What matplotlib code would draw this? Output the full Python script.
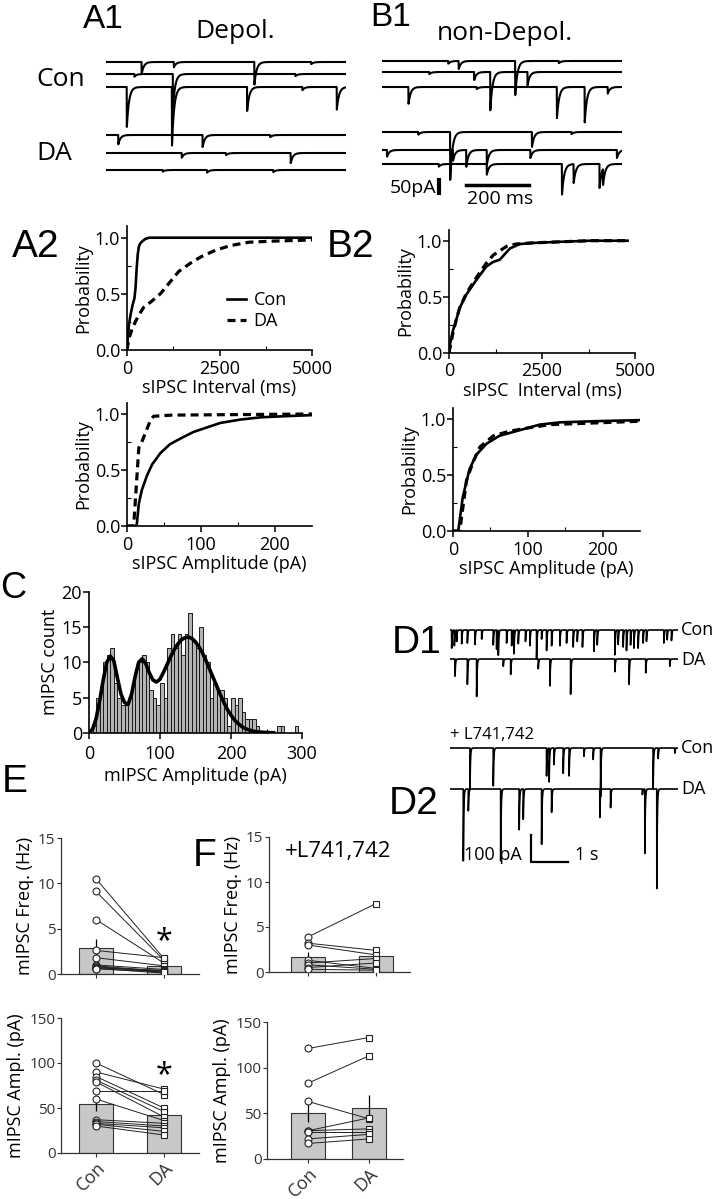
import numpy as np
import matplotlib
matplotlib.use("Agg")
import matplotlib.pyplot as plt

# ---- data ----

# A1 / B1 example traces: (time ms, amplitude pA) per sweep
a1_con_events = [
    [(113, 45), (215, 20), (470, 85), (650, 8)],
    [(90, 10), (212, 130), (600, 8)],
    [(66, 150), (209, 220), (447, 90), (622, 12), (731, 85)],
]
a1_da_events = [
    [(39, 35), (306, 45), (520, 8)],
    [(240, 18), (380, 8), (585, 38)],
    [(180, 6), (320, 10), (530, 8)],
]
b1_con_events = [
    [(210, 10), (243, 30), (422, 128), (560, 8)],
    [(150, 8), (292, 30), (343, 144), (461, 50)],
    [(84, 63), (300, 8), (554, 117), (642, 133), (715, 25)],
]
b1_da_events = [
    [(115, 10), (216, 180), (475, 56), (600, 8)],
    [(16, 25), (225, 40), (267, 63), (332, 56), (470, 30), (744, 30)],
    [(180, 10), (332, 40), (570, 115), (607, 71), (689, 90), (700, 60)],
]

# A2 / B2 cumulative probability curves
a2_int_con_x = [0, 20, 50, 100, 150, 200, 230, 260, 290, 320, 360, 420, 500, 600, 5000]
a2_int_con_y = [0, 0.1, 0.22, 0.32, 0.4, 0.46, 0.55, 0.72, 0.85, 0.92, 0.95, 0.97, 0.99, 1.0, 1.0]
a2_int_da_x = [0, 50, 150, 300, 450, 650, 900, 1150, 1400, 1700, 2000, 2400, 2800, 3300, 4000, 5000]
a2_int_da_y = [0, 0.1, 0.2, 0.3, 0.38, 0.43, 0.5, 0.6, 0.7, 0.77, 0.83, 0.89, 0.93, 0.96, 0.97, 0.98]
a2_amp_con_x = [0, 13, 16, 20, 27, 34, 45, 58, 72, 90, 108, 126, 153, 180, 212, 250]
a2_amp_con_y = [0, 0, 0.2, 0.32, 0.45, 0.55, 0.65, 0.73, 0.78, 0.84, 0.88, 0.92, 0.95, 0.97, 0.98, 0.99]
a2_amp_da_x = [0, 9, 13, 16, 20, 26, 32, 36, 60, 250]
a2_amp_da_y = [0, 0, 0.4, 0.7, 0.75, 0.85, 0.95, 0.98, 0.99, 1.0]

b2_int_con_x = [0, 30, 108, 200, 287, 467, 736, 1005, 1185, 1364, 1500, 1634, 1903, 2262, 2980, 3800, 4800]
b2_int_con_y = [0, 0.08, 0.2, 0.3, 0.4, 0.52, 0.65, 0.77, 0.81, 0.83, 0.88, 0.93, 0.97, 0.98, 0.99, 1.0, 1.0]
b2_int_da_x = [0, 30, 108, 200, 287, 467, 736, 1005, 1185, 1364, 1550, 1800, 2200, 3000, 3800, 4800]
b2_int_da_y = [0, 0.05, 0.18, 0.3, 0.4, 0.53, 0.67, 0.8, 0.87, 0.91, 0.95, 0.97, 0.98, 0.99, 1.0, 1.0]
b2_amp_con_x = [0, 7, 13, 22, 31, 45, 62, 89, 116, 143, 187, 250]
b2_amp_con_y = [0, 0, 0.3, 0.55, 0.68, 0.78, 0.85, 0.9, 0.95, 0.97, 0.98, 0.99]
b2_amp_da_x = [0, 9, 18, 27, 36, 54, 75, 100, 130, 170, 250]
b2_amp_da_y = [0, 0, 0.45, 0.62, 0.75, 0.85, 0.89, 0.92, 0.95, 0.96, 0.98]

# C histogram, 5 pA bins from 0 to 300
hist_counts = [0, 1, 5, 6, 10, 11, 12, 7, 5, 4,
               4, 5, 7, 9, 10, 11, 10, 6, 5, 4,
               7, 5, 12, 14, 12, 14, 11, 14, 17, 13,
               12, 15, 11, 10, 5, 7, 6, 6, 5, 1,
               5, 4, 5, 3, 2, 2, 2, 1, 0, 0,
               0, 0, 0, 1, 1, 0, 0, 0, 1, 0]
fit_x = list(range(0, 265, 5))
fit_y = [0, 0.5, 2, 4.5, 7.5, 10, 10.9, 10.2, 7.8, 5.5,
         4.3, 4.0, 5.5, 8, 10, 10.5, 9.8, 8.5, 7.5, 7.2,
         7.6, 8.6, 9.7, 10.8, 11.8, 12.6, 13.2, 13.5, 13.6, 13.4,
         12.9, 12.2, 11.3, 10.2, 9, 7.8, 6.6, 5.4, 4.3, 3.3,
         2.5, 1.8, 1.3, 0.9, 0.6, 0.4, 0.25, 0.15, 0.1, 0.06,
         0.03, 0.01, 0]

# D1 / D2 traces: (time s, amplitude pA)
d1_con_events = [(0.045, 74), (0.117, 64), (0.18, 43), (0.315, 56), (0.47, 49), (0.675, 59),
                 (0.855, 37), (1.17, 56), (1.26, 72), (1.305, 101), (1.53, 49), (1.665, 64),
                 (1.73, 89), (1.845, 56), (2.04, 43), (2.16, 59), (2.34, 109), (2.475, 37),
                 (2.61, 77), (2.745, 64), (2.97, 59), (3.15, 49), (3.33, 64), (3.44, 43),
                 (3.58, 64), (3.89, 80), (3.98, 56), (4.455, 101), (4.545, 59), (4.68, 64),
                 (4.77, 77), (4.88, 56), (4.97, 68), (5.085, 74), (5.22, 49), (5.31, 43),
                 (5.78, 49), (5.87, 37), (5.985, 43)]
d1_da_events = [(0.135, 70), (0.47, 95), (0.72, 141), (1.44, 27), (1.64, 58), (2.385, 40),
                (2.7, 101), (3.26, 132), (4.455, 52), (4.84, 95), (5.29, 52), (5.94, 27)]
d2_con_events = [(0.54, 154), (1.17, 142), (2.61, 105), (2.68, 127), (2.81, 62), (3.06, 95),
                 (3.22, 105), (3.62, 31), (3.87, 43), (4.07, 182), (5.49, 154), (5.625, 43),
                 (6.075, 21)]
d2_da_events = [(0.36, 270), (0.495, 89), (1.37, 270), (1.87, 153), (1.98, 114), (2.475, 226),
                (2.745, 95), (4.05, 107), (4.34, 70), (5.2, 21), (5.265, 263), (5.59, 374)]

# E / F paired data
groups = ["Con", "DA"]
e_freq_con = [10.5, 9.1, 6.0, 2.6, 1.8, 1.0, 0.9, 0.8, 0.7, 0.7, 0.6, 0.6]
e_freq_da = [1.7, 1.5, 1.2, 1.8, 0.9, 0.5, 0.3, 0.2, 0.4, 0.3, 0.1, 0.2]
e_freq_mean = [2.9, 0.85]
e_freq_sem = [1.0, 0.2]
e_amp_con = [100, 90, 85, 81, 79, 69, 60, 37, 35, 33, 32, 30]
e_amp_da = [65, 71, 50, 46, 40, 69, 36, 33, 30, 28, 24, 20]
e_amp_mean = [54, 42]
e_amp_sem = [7, 5]
f_freq_con = [3.9, 3.2, 3.0, 1.3, 1.0, 0.8, 0.5, 0.3]
f_freq_da = [7.6, 2.4, 1.9, 0.4, 1.5, 0.3, 1.0, 0.2]
f_freq_mean = [1.7, 1.8]
f_freq_sem = [0.5, 0.9]
f_amp_con = [121, 83, 63, 31, 31, 30, 22, 17]
f_amp_da = [133, 113, 44, 45, 33, 30, 27, 22]
f_amp_mean = [50, 56]
f_amp_sem = [10, 14]

# ---- figure ----
W, H = 718, 1199
fig = plt.figure(figsize=(W / 100, H / 100), dpi=100)
TXT = ["Open Sans", "DejaVu Sans"]
LAB = ["Liberation Sans", "DejaVu Sans"]


def ax_px(x0, y0, x1, y1):
    return fig.add_axes([x0 / W, 1 - y1 / H, (x1 - x0) / W, (y1 - y0) / H])


def ftext(x, y, s, size=13, family=TXT, **kw):
    kw.setdefault("va", "center")
    fig.text(x / W, 1 - y / H, s, fontsize=size, family=family, **kw)


def trace(t, events, tau):
    y = np.zeros_like(t)
    for te, amp in events:
        m = t >= te
        y[m] -= amp * np.exp(-(t[m] - te) / tau)
    return y


PX_PER_PA = 0.266

# ---- A1 / B1 ----
t_ms = np.arange(0, 760, 0.5)
for (x0, x1, base_px, con_ev, da_ev) in [
        (106, 346, [62, 74, 87, 135, 153, 170], a1_con_events, a1_da_events),
        (382, 622, [61, 72, 87, 132, 150, 164], b1_con_events, b1_da_events)]:
    ax = ax_px(x0, 45, x1, 205)
    ref = base_px[0]
    for ev, bp in zip(con_ev + da_ev, base_px):
        off = -(bp - ref) / PX_PER_PA
        ax.plot(t_ms, trace(t_ms, ev, 7.0) + off, color="black", lw=1.5)
    ax.set_xlim(0, 760)
    ax.set_ylim(-(205 - ref) / PX_PER_PA, (ref - 45) / PX_PER_PA)
    ax.axis("off")
    if x0 == 382:
        sb = ax
        y_lo = -(193 - ref) / PX_PER_PA
        sb.plot([180, 180], [y_lo, y_lo + 50], color="black", lw=3, clip_on=False)
        sb.plot([266, 466], [-(185 - ref) / PX_PER_PA] * 2, color="black", lw=2.5,
                clip_on=False)

ftext(83, 19, "A1", size=24, family=LAB)
ftext(195, 31, "Depol.", size=19)
ftext(36, 80, "Con", size=19)
ftext(36, 154, "DA", size=19)
ftext(370, 17, "B1", size=24, family=LAB)
ftext(437, 33, "non-Depol.", size=19)
ftext(436, 188, "50pA", size=14, ha="right")
ftext(500, 199, "200 ms", size=14, ha="center")


# ---- A2 / B2 ----
def cdf_axes(x0, x1, y10, y00, xmax, xticks, con_x, con_y, da_x, da_y, xlabel):
    unit = (y00 - y10)
    ax = ax_px(x0, y10 - 0.1 * unit, x1, y00)
    ax.plot(con_x, con_y, color="black", lw=1.9)
    ax.plot(da_x, da_y, color="black", lw=2.3, ls=(0, (2.5, 1.6)))
    ax.set_xlim(0, xmax)
    ax.set_ylim(0, 1.1)
    ax.set_xticks(xticks)
    ax.set_xticks([xticks[0] + (xticks[1] - xticks[0]) / 2 + k * (xticks[1] - xticks[0])
                   for k in range(len(xticks) - 1)], minor=True)
    ax.set_yticks([0, 0.5, 1.0])
    ax.set_yticklabels(["0.0", "0.5", "1.0"])
    ax.set_yticks([0.25, 0.75], minor=True)
    for s in ["top", "right"]:
        ax.spines[s].set_visible(False)
    for s in ["left", "bottom"]:
        ax.spines[s].set_linewidth(1.2)
    ax.tick_params(which="major", length=4, width=1.1, labelsize=13, pad=1)
    ax.tick_params(axis="x", which="major", pad=3)
    ax.tick_params(which="minor", length=3, width=0.8, direction="in")
    for lab in ax.get_xticklabels() + ax.get_yticklabels():
        lab.set_family(TXT)
    ax.set_ylabel("Probability", fontsize=13, family=TXT, labelpad=2)
    ax.set_xlabel(xlabel, fontsize=13, family=TXT, labelpad=1)
    return ax


ax = cdf_axes(127, 312, 237.7, 350, 5000, [0, 2500, 5000],
              a2_int_con_x, a2_int_con_y, a2_int_da_x, a2_int_da_y, "sIPSC Interval (ms)")
ax.legend(["Con", "DA"], loc="lower left", bbox_to_anchor=(0.45, 0.03), frameon=False,
          handlelength=1.1, handletextpad=0.4, labelspacing=0.15,
          prop={"family": TXT, "size": 13})
cdf_axes(127, 312, 414, 526, 250, [0, 100, 200],
         a2_amp_con_x, a2_amp_con_y, a2_amp_da_x, a2_amp_da_y, "sIPSC Amplitude (pA)")
cdf_axes(449, 635, 240.7, 352.7, 5000, [0, 2500, 5000],
         b2_int_con_x, b2_int_con_y, b2_int_da_x, b2_int_da_y, "sIPSC  Interval (ms)")
cdf_axes(453, 640, 419, 531, 250, [0, 100, 200],
         b2_amp_con_x, b2_amp_con_y, b2_amp_da_x, b2_amp_da_y, "sIPSC Amplitude (pA)")
ftext(12, 247, "A2", size=28, family=LAB)
ftext(327, 247, "B2", size=28, family=LAB)

# ---- C ----
ax = ax_px(89, 592, 302, 732.7)
edges = np.arange(0, 305, 5)
ax.bar(edges[:-1], hist_counts, width=5, align="edge", color="#b4b4b4",
       edgecolor="#1a1a1a", linewidth=0.7)
ax.plot(fit_x, fit_y, color="black", lw=2.6)
ax.set_xlim(0, 300)
ax.set_ylim(0, 20)
ax.set_xticks([0, 100, 200, 300])
ax.set_xticks([50, 150, 250], minor=True)
ax.set_yticks([0, 5, 10, 15, 20])
for s in ["top", "right"]:
    ax.spines[s].set_visible(False)
for s in ["left", "bottom"]:
    ax.spines[s].set_linewidth(1.2)
ax.tick_params(which="major", length=4, width=1.1, labelsize=13, pad=1)
ax.tick_params(axis="x", which="major", pad=5)
ax.tick_params(which="minor", length=3, width=0.8, direction="in")
for lab in ax.get_xticklabels() + ax.get_yticklabels():
    lab.set_family(TXT)
ax.set_ylabel("mIPSC count", fontsize=13, family=TXT, labelpad=2)
ax.set_xlabel("mIPSC Amplitude (pA)", fontsize=13, family=TXT, labelpad=3)
ftext(0, 588, "C", size=26, family=LAB)

# ---- D1 / D2 ----
t_s = np.arange(0, 6.16, 0.002)
PX_PER_S = 37.0
ax = ax_px(450, 600, 678, 900)
d_ref = 630
for ev, bp in [(d1_con_events, 630), (d1_da_events, 659), (d2_con_events, 748),
               (d2_da_events, 789)]:
    off = -(bp - d_ref) / PX_PER_PA
    ax.plot(t_s, trace(t_s, ev, 0.012) + off, color="black", lw=1.2)
ax.set_xlim(0, 228 / PX_PER_S)
ax.set_ylim(-(900 - d_ref) / PX_PER_PA, (d_ref - 600) / PX_PER_PA)
ax.axis("off")
sx = (531 - 450) / PX_PER_S
sy = -(862 - d_ref) / PX_PER_PA
ax.plot([sx, sx, sx + 1.0], [sy + 100, sy, sy], color="black", lw=1.6, clip_on=False)
ftext(681, 630, "Con", size=13)
ftext(681, 660, "DA", size=13)
ftext(681, 748, "Con", size=13)
ftext(681, 789, "DA", size=13)
ftext(450, 735, "+ L741,742", size=12)
ftext(522, 855, "100 pA", size=13, ha="right")
ftext(575, 855, "1 s", size=13)
ftext(392, 643, "D1", size=28, family=LAB)
ftext(389, 804, "D2", size=28, family=LAB)


# ---- E / F ----
def pair_axes(x0, x1, y_top, y0, ymax, ystep, centers, con, da, mean, sem, ylabel,
              show_x=False, star=None):
    span = centers[1] - centers[0]
    ax = ax_px(x0, y_top, x1, y0)
    xl = (x0 - centers[0]) / span
    xr = (x1 - centers[0]) / span
    ax.bar([0, 1], mean, width=34 / span, color="#c8c8c8", edgecolor="#333333",
           linewidth=0.8, zorder=1)
    ax.errorbar([0, 1], mean, yerr=sem, fmt="none", ecolor="black", elinewidth=0.9,
                capsize=0, zorder=2)
    for c, d in zip(con, da):
        ax.plot([0, 1], [c, d], color="#222222", lw=0.7, zorder=3)
    ax.plot([0] * len(con), con, ls="none", marker="o", ms=5, mfc="white",
            mec="#222222", mew=0.8, zorder=4)
    ax.plot([1] * len(da), da, ls="none", marker="s", ms=5, mfc="white",
            mec="#222222", mew=0.8, zorder=4)
    ax.set_xlim(xl, xr)
    ax.set_ylim(0, ymax)
    ax.set_yticks(np.arange(0, ymax + 1, ystep))
    ax.set_xticks([0, 1])
    for s in ["top", "right"]:
        ax.spines[s].set_visible(False)
    for s in ["left", "bottom"]:
        ax.spines[s].set_linewidth(0.9)
        ax.spines[s].set_color("#333333")
    ax.tick_params(length=3, width=0.8, labelsize=11, pad=1, colors="#333333")
    if show_x:
        ax.set_xticklabels(groups, rotation=45, ha="right", rotation_mode="anchor",
                           fontsize=13, family=TXT)
    else:
        ax.set_xticklabels([])
    for lab in ax.get_yticklabels():
        lab.set_family(TXT)
    ax.set_ylabel(ylabel, fontsize=13, family=TXT, labelpad=3)
    if star is not None:
        ax.text(1, star, "*", ha="center", va="center", fontsize=22, family=TXT)
    return ax


pair_axes(61, 199, 838, 974, 15, 5, [96, 164], e_freq_con, e_freq_da,
          e_freq_mean, e_freq_sem, "mIPSC Freq. (Hz)", star=3.6)
pair_axes(61, 199, 1018, 1153, 150, 50, [96, 164], e_amp_con, e_amp_da,
          e_amp_mean, e_amp_sem, "mIPSC Ampl. (pA)", show_x=True, star=87)
pair_axes(269, 410, 837, 972, 15, 5, [308, 376], f_freq_con, f_freq_da,
          f_freq_mean, f_freq_sem, "mIPSC Freq. (Hz)")
pair_axes(267, 403, 1022, 1159, 150, 50, [308, 369], f_amp_con, f_amp_da,
          f_amp_mean, f_amp_sem, "mIPSC Ampl. (pA)", show_x=True)
ftext(2, 782, "E", size=28, family=LAB)
ftext(193, 856, "F", size=28, family=LAB)
ftext(285, 852, "+L741,742", size=16)

fig.savefig("out.png", dpi=100)
